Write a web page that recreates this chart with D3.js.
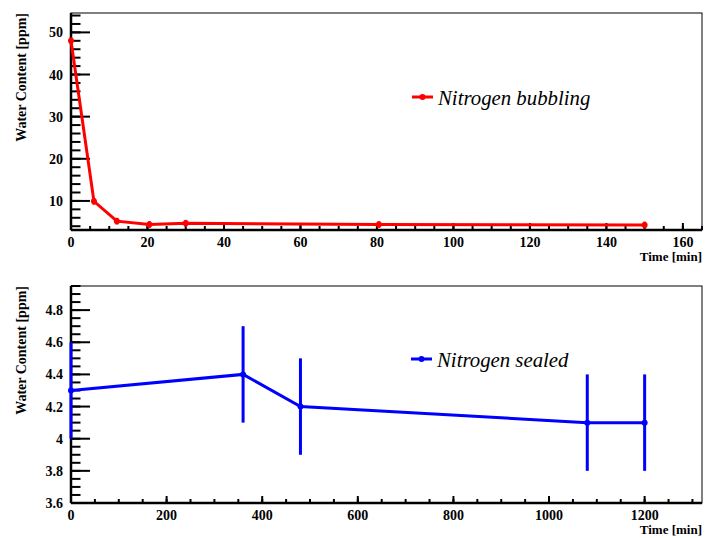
<!DOCTYPE html>
<html><head><meta charset="utf-8">
<script src="https://cdn.jsdelivr.net/npm/d3@7"></script>
<style>body{margin:0;background:#fff;} svg{display:block;}</style>
</head><body>
<svg id="c" width="705" height="538"></svg>
<script>
// Top panel: Nitrogen bubbling
const bubTime = [0, 6, 12, 20.5, 30, 80.5, 150];
const bubWater = [48.0, 9.9, 5.2, 4.4, 4.7, 4.4, 4.3];
const bubErr = [0.8, 0.8, 0.8, 0.8, 0.8, 0.8, 0.8];
const bubXTicks = [0, 20, 40, 60, 80, 100, 120, 140, 160];
const bubYTicks = [10, 20, 30, 40, 50];
// Bottom panel: Nitrogen sealed
const selTime = [0, 360, 480, 1080, 1200];
const selWater = [4.3, 4.4, 4.2, 4.1, 4.1];
const selErr = [0.3, 0.3, 0.3, 0.3, 0.3];
const selXTicks = [0, 200, 400, 600, 800, 1000, 1200];
const selYTicks = [3.6, 3.8, 4.0, 4.2, 4.4, 4.6, 4.8];

const svg = d3.select("#c");
const FONT = "Liberation Serif";

function panel(cfg) {
  const g = svg.append("g");
  const x = d3.scaleLinear().domain(cfg.xDom).range([cfg.left, cfg.right]);
  const y = d3.scaleLinear().domain(cfg.yDom).range([cfg.bottom, cfg.top]);
  g.append("rect").attr("x", cfg.left).attr("y", cfg.top)
    .attr("width", cfg.right - cfg.left).attr("height", cfg.bottom - cfg.top)
    .attr("fill", "none").attr("stroke", "#000").attr("stroke-width", 1);
  const xMinor = d3.range(cfg.xDom[0], cfg.xDom[1] + 1e-9, cfg.xMinorStep);
  g.selectAll(".xm").data(xMinor).enter().append("line")
    .attr("x1", d => x(d)).attr("x2", d => x(d))
    .attr("y1", cfg.bottom).attr("y2", cfg.bottom - 4)
    .attr("stroke", "#000").attr("stroke-width", 2);
  g.selectAll(".xM").data(cfg.xTicks).enter().append("line")
    .attr("x1", d => x(d)).attr("x2", d => x(d))
    .attr("y1", cfg.bottom).attr("y2", cfg.bottom - 7)
    .attr("stroke", "#000").attr("stroke-width", 2);
  g.selectAll(".xl").data(cfg.xTicks).enter().append("text")
    .attr("x", d => x(d)).attr("y", cfg.bottom + 16.5)
    .attr("text-anchor", "middle").attr("font-family", FONT)
    .attr("font-weight", "bold").attr("font-size", 14)
    .text(d => cfg.xFmt(d));
  const yStart = Math.ceil(cfg.yDom[0] / cfg.yMinorStep - 1e-9) * cfg.yMinorStep;
  const yMinor = d3.range(yStart, cfg.yDom[1] + 1e-9, cfg.yMinorStep);
  g.selectAll(".ym").data(yMinor).enter().append("line")
    .attr("x1", cfg.left).attr("x2", cfg.left + 9.5)
    .attr("y1", d => y(d)).attr("y2", d => y(d))
    .attr("stroke", "#000").attr("stroke-width", 2);
  g.selectAll(".yM").data(cfg.yTicks).enter().append("line")
    .attr("x1", cfg.left).attr("x2", cfg.left + 19)
    .attr("y1", d => y(d)).attr("y2", d => y(d))
    .attr("stroke", "#000").attr("stroke-width", 2);
  g.selectAll(".yl").data(cfg.yTicks).enter().append("text")
    .attr("x", cfg.left - 8).attr("y", d => y(d) + 5)
    .attr("text-anchor", "end").attr("font-family", FONT)
    .attr("font-weight", "bold").attr("font-size", 14)
    .text(d => cfg.yFmt(d));
  g.append("line").attr("x1", cfg.left).attr("x2", cfg.right)
    .attr("y1", cfg.bottom).attr("y2", cfg.bottom)
    .attr("stroke", "#000").attr("stroke-width", 2.5);
  g.append("line").attr("x1", cfg.left).attr("x2", cfg.left)
    .attr("y1", cfg.top).attr("y2", cfg.bottom)
    .attr("stroke", "#000").attr("stroke-width", 2.5);
  g.append("text").attr("x", cfg.right).attr("y", cfg.bottom + 31)
    .attr("text-anchor", "end").attr("font-family", FONT)
    .attr("font-weight", "bold").attr("font-size", 13).text("Time [min]");
  g.append("text").attr("transform", `translate(26,${cfg.top}) rotate(-90)`)
    .attr("text-anchor", "end").attr("font-family", FONT)
    .attr("font-weight", "bold").attr("font-size", 14).text("Water Content [ppm]");
  const pts = cfg.xs.map((t, i) => ({t, v: cfg.ys[i], e: cfg.es[i]}));
  g.append("path").datum(pts)
    .attr("d", d3.line().x(d => x(d.t)).y(d => y(d.v)))
    .attr("fill", "none").attr("stroke", cfg.color).attr("stroke-width", 3);
  g.selectAll(".eb").data(pts).enter().append("line")
    .attr("x1", d => x(d.t)).attr("x2", d => x(d.t))
    .attr("y1", d => y(d.v - d.e)).attr("y2", d => y(d.v + d.e))
    .attr("stroke", cfg.color).attr("stroke-width", 3);
  g.selectAll(".mk").data(pts).enter().append("circle")
    .attr("cx", d => x(d.t)).attr("cy", d => y(d.v)).attr("r", 3)
    .attr("fill", cfg.color);
  const L = cfg.legend;
  g.append("line").attr("x1", L.x).attr("x2", L.x + 21)
    .attr("y1", L.y).attr("y2", L.y)
    .attr("stroke", cfg.color).attr("stroke-width", 3);
  g.append("circle").attr("cx", L.x + 10.5).attr("cy", L.y).attr("r", 3)
    .attr("fill", cfg.color);
  g.append("text").attr("x", L.x + 26).attr("y", L.y + 8)
    .attr("font-family", FONT).attr("font-style", "italic")
    .attr("font-size", 20.8).attr("fill", "#000").text(L.label);
}

panel({
  left: 71, right: 702, top: 13, bottom: 230,
  xDom: [0, 165], yDom: [3.1, 54.6],
  xTicks: bubXTicks, yTicks: bubYTicks, xMinorStep: 5, yMinorStep: 2,
  xFmt: d => d, yFmt: d => d,
  xs: bubTime, ys: bubWater, es: bubErr, color: "#ff0000",
  legend: {x: 412, y: 97, label: "Nitrogen bubbling"}
});
panel({
  left: 71, right: 702, top: 286, bottom: 503,
  xDom: [0, 1320], yDom: [3.6, 4.95],
  xTicks: selXTicks, yTicks: selYTicks, xMinorStep: 50, yMinorStep: 0.05,
  xFmt: d => d, yFmt: d => (Math.abs(d - 4) < 1e-9 ? "4" : d3.format(".1f")(d)),
  xs: selTime, ys: selWater, es: selErr, color: "#0000ff",
  legend: {x: 411, y: 359, label: "Nitrogen sealed"}
});
</script>
</body></html>
